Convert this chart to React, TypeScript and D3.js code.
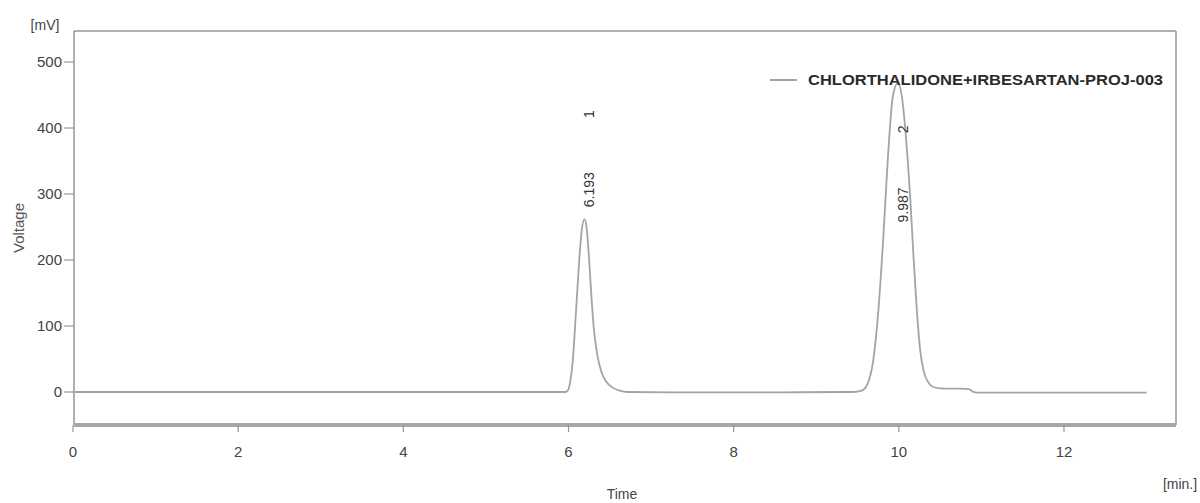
import React from "react";
import * as d3 from "d3";

const seriesName = "CHLORTHALIDONE+IRBESARTAN-PROJ-003";
const xTicks = [0, 2, 4, 6, 8, 10, 12];
const yTicks = [0, 100, 200, 300, 400, 500];

// retention time (min) and detector voltage (mV)
const times = [
  0, 2, 4, 5.5, 5.95, 5.99, 6.02, 6.05, 6.09, 6.13, 6.16, 6.193, 6.22, 6.25, 6.28, 6.31, 6.35,
  6.4, 6.46, 6.53, 6.62, 6.72, 7.5, 8.5, 9.3, 9.45, 9.55, 9.62, 9.69, 9.75, 9.81, 9.87, 9.93, 9.987,
  10.04, 10.09, 10.14, 10.18, 10.22, 10.26, 10.3, 10.35, 10.41, 10.5, 10.6, 10.75, 10.85, 10.89,
  10.95, 11.5, 12.5, 13.0,
];
const volts = [
  0, 0, 0, 0, 0, 2, 15, 45, 120, 200, 245, 262, 248, 200, 140, 92, 55,
  30, 15, 7, 2, 0, -0.5, -0.5, 0, 0, 2, 12, 48, 120, 230, 360, 450, 468,
  445, 380, 290, 200, 120, 62, 32, 16, 8, 5.5, 5, 5, 4.5, 1,
  -1, -1, -1, -1,
];

const peakTimes = [6.193, 9.987];
const peakIds = ["1", "2"];
// voltage level where each rotated label starts
const rtLabelLevels = [280, 257];
const idLabelLevels = [415, 392];

export default function App() {
  const W = 1200, H = 503;
  const left = 74, right = 1176, top = 31, bottom = 425;
  const x = d3.scaleLinear().domain([0, 12]).range([73, 1064]);
  const y = d3.scaleLinear().domain([0, 500]).range([392, 62]);

  const pts = times.map((t, i) => [t, volts[i]] as [number, number]);
  const line = d3
    .line<[number, number]>()
    .x((d) => x(d[0]))
    .y((d) => y(d[1]))
    .curve(d3.curveMonotoneX);

  const font = "'Liberation Sans Narrow', 'Liberation Sans', Arial, sans-serif";
  const axisCol = "#9a9590";
  const textCol = "#333";

  return (
    <div style={{ position: "absolute", left: 0, top: 0 }}>
      <svg width={W} height={H} style={{ display: "block", background: "#fff" }} fontFamily={font}>
        {/* frame */}
        <line x1={left} x2={right} y1={top} y2={top} stroke={axisCol} strokeWidth={1.5} />
        <line x1={right} x2={right} y1={top} y2={bottom} stroke={axisCol} strokeWidth={1.5} />
        <line x1={left} x2={left} y1={top} y2={bottom} stroke={axisCol} strokeWidth={1.5} />
        <line x1={left} x2={right} y1={bottom} y2={bottom} stroke="#aaa6a2" strokeWidth={4} />

        {/* y ticks */}
        {yTicks.map((v) => (
          <g key={"y" + v}>
            <line x1={64} x2={left} y1={y(v)} y2={y(v)} stroke={axisCol} strokeWidth={1.2} />
            <text x={62} y={y(v)} dy="0.35em" textAnchor="end" fontSize={15} fill="#444">
              {v}
            </text>
          </g>
        ))}
        <text x={45} y={30} textAnchor="middle" fontSize={14} fill="#444">[mV]</text>
        <text
          transform={`translate(24,228) rotate(-90)`}
          textAnchor="middle"
          fontSize={15}
          fill="#555"
        >
          Voltage
        </text>

        {/* x ticks */}
        {xTicks.map((v) => (
          <g key={"x" + v}>
            <line x1={x(v)} x2={x(v)} y1={bottom} y2={432} stroke={axisCol} strokeWidth={1.2} />
            <text x={x(v)} y={457} textAnchor="middle" fontSize={15} fill="#444">
              {v}
            </text>
          </g>
        ))}
        <text x={622} y={499} textAnchor="middle" fontSize={14} fill="#444">Time</text>
        <text x={1180} y={489} textAnchor="middle" fontSize={14} fill="#444">[min.]</text>

        {/* trace */}
        <path d={line(pts) || ""} fill="none" stroke="#a8a39e" strokeWidth={1.8} />

        {/* peak labels */}
        {peakTimes.map((t, i) => (
          <g key={"p" + i}>
            <text
              transform={`translate(${x(t) + 10},${y(rtLabelLevels[i])}) rotate(-90)`}
              textAnchor="start"
              fontSize={14}
              fill={textCol}
            >
              {t.toFixed(3)}
            </text>
            <text
              transform={`translate(${x(t) + 10},${y(idLabelLevels[i])}) rotate(-90)`}
              textAnchor="start"
              fontSize={14}
              fill={textCol}
            >
              {peakIds[i]}
            </text>
          </g>
        ))}

        {/* legend */}
        <line x1={770} x2={797} y1={80} y2={80} stroke="#8a8580" strokeWidth={1.5} />
        <text
          x={808}
          y={85}
          fontSize={14}
          fontWeight="bold"
          fill="#2a2a2a"
          textLength={355}
          lengthAdjust="spacingAndGlyphs"
        >
          {seriesName}
        </text>
      </svg>
    </div>
  );
}
